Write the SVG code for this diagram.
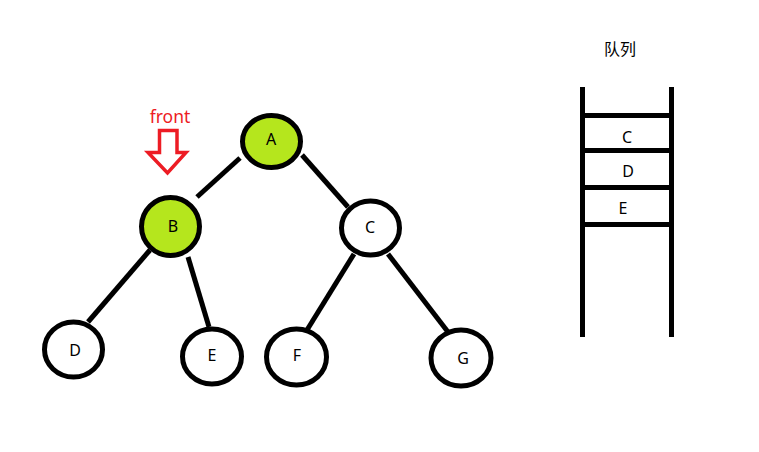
<svg xmlns="http://www.w3.org/2000/svg" width="759" height="452" viewBox="0 0 759 452">
<style>
.n{stroke:#000;stroke-width:5}
.g{fill:#B5E61D}
.w{fill:#fff}
.t{font-family:"Noto Sans","Liberation Sans","Noto Sans CJK SC",sans-serif;font-size:16px;fill:#000;text-anchor:middle;dominant-baseline:central}
.e{stroke:#000;stroke-width:5;fill:none}
</style>
<rect width="759" height="452" fill="#fff"/>
<g id="connectors">
<line class="e" x1="240" y1="158" x2="197" y2="197"/>
<line class="e" x1="302" y1="155" x2="348" y2="207"/>
<line class="e" x1="150" y1="250" x2="88" y2="322"/>
<line class="e" x1="188" y1="257" x2="209" y2="327"/>
<line class="e" x1="354" y1="254" x2="307" y2="330"/>
<line class="e" x1="388" y1="254" x2="448" y2="332"/>
</g>
<g id="A"><ellipse class="n g" cx="271.5" cy="141.5" rx="29" ry="26"/><text class="t" x="271" y="139">A</text></g>
<g id="B"><ellipse class="n g" cx="170.5" cy="226.5" rx="29" ry="29"/><text class="t" x="173" y="226">B</text></g>
<g id="C"><ellipse class="n w" cx="370.5" cy="228" rx="29" ry="27"/><text class="t" x="370" y="227">C</text></g>
<g id="D"><ellipse class="n w" cx="73.5" cy="349.5" rx="29" ry="27.5"/><text class="t" x="75" y="350">D</text></g>
<g id="E"><ellipse class="n w" cx="212" cy="356.5" rx="29.5" ry="27.5"/><text class="t" x="212" y="355">E</text></g>
<g id="F"><ellipse class="n w" cx="296.5" cy="357" rx="30" ry="28"/><text class="t" x="297" y="355">F</text></g>
<g id="G"><ellipse class="n w" cx="461" cy="358" rx="30" ry="28"/><text class="t" x="463" y="358">G</text></g>
<g id="front">
<text x="170" y="116" style="font-family:'Noto Sans','Liberation Sans',sans-serif;font-size:17.5px;fill:#ED1C24;text-anchor:middle;dominant-baseline:central">front</text>
<polygon points="159.5,130.5 177,130.5 177,152.5 186,152.5 167.5,173 148,152.5 159.5,152.5" fill="none" stroke="#ED1C24" stroke-width="3.5" stroke-linejoin="miter"/>
</g>
<g id="queue">
<text class="t" x="620" y="49">队列</text>
<line class="e" x1="582.5" y1="87" x2="582.5" y2="337"/>
<line class="e" x1="671.5" y1="87" x2="671.5" y2="337"/>
<line class="e" x1="580" y1="115.5" x2="674" y2="115.5"/>
<line class="e" x1="580" y1="150.5" x2="674" y2="150.5"/>
<line class="e" x1="580" y1="187.5" x2="674" y2="187.5"/>
<line class="e" x1="580" y1="224.5" x2="674" y2="224.5"/>
<text class="t" x="627" y="137">C</text>
<text class="t" x="628" y="171">D</text>
<text class="t" x="623" y="208">E</text>
</g>
</svg>
